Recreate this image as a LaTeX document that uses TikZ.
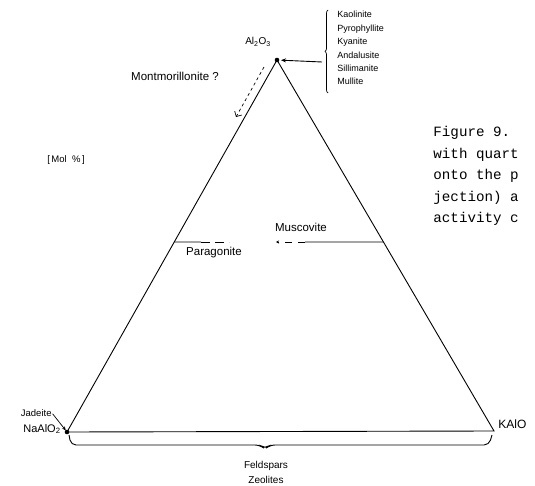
\documentclass[tikz,border=0pt]{standalone}
\usepackage{fontspec}
\setmainfont{Liberation Sans}
\newfontfamily\typew{Liberation Mono}
\usetikzlibrary{arrows.meta,decorations.pathreplacing,calc}
\begin{document}
\begin{tikzpicture}[x=1pt,y=-1pt,line width=0.9pt,
  lbl/.style={font=\fontsize{9}{11}\selectfont,inner sep=0pt},
  big/.style={font=\fontsize{11.5}{14}\selectfont,inner sep=0pt},
  capline/.style={font=\typew\fontsize{14.2}{18}\selectfont,anchor=base west,inner sep=0pt},
  arr/.style={-{Stealth[length=5pt,width=4pt]}}]
\clip (0,0) rectangle (535,486);
\fill[white] (0,0) rectangle (535,486);
% vertices
\coordinate (A) at (277,60);
\coordinate (B) at (67,432);
\coordinate (C) at (494,431);
\draw (A) -- (B) -- (C) -- cycle;
\fill (A) circle (2.3);
\fill (B) circle (2.3);
% apex
\node[lbl,font=\fontsize{10}{12}\selectfont] (al) at (258,42) {Al\textsubscript{2}O\textsubscript{3}};
\coordinate (aS) at (322,62);
\draw[arr,shorten >=4pt] (aS) -- (A);
\draw[line width=0.7pt,decorate,decoration={brace,amplitude=3pt}] (328,93) -- (328,10);
\node[lbl,anchor=north west,align=left,font=\fontsize{9}{13.4}\selectfont] (minerals) at (337,11)
  {Kaolinite\\Pyrophyllite\\Kyanite\\Andalusite\\Sillimanite\\Mullite};
% montmorillonite
\node[big] (mont) at (175,76) {Montmorillonite ?};
\coordinate (m1) at (264,67);
\coordinate (m2) at (236,117);
\draw[dashed,line width=0.7pt,-{Straight Barb[length=4pt]}] (m1) -- (m2);
% mol %
\node[lbl,font=\fontsize{9.5}{11}\selectfont] (mol) at (66,160) {[\,Mol~~\%\,]};
% micas tie line
\coordinate (pl) at ($(A)!0.4892!(B)$);
\coordinate (pr) at ($(A)!0.4906!(C)$);
\coordinate (pd1) at (201,242);
\coordinate (pd2) at (229,242);
\coordinate (md1) at (305,242);
\coordinate (md2) at (276,242);
\draw (pl) -- (pd1);
\draw[dash pattern=on 9pt off 5pt] (pd1) -- (pd2);
\draw (md1) -- (pr);
\draw[dash pattern=on 7pt off 6pt,-{Stealth[length=3pt,width=3pt]}] (md1) -- (md2);
\node[big] (musc) at (301,227) {Muscovite};
\node[big] (parag) at (214,253) {Paragonite};
% left vertex labels
\node[inner sep=0pt,anchor=east,font=\fontsize{9.5}{11}\selectfont] (jad) at (52,413) {Jadeite};
\node[inner sep=0pt,anchor=east,font=\fontsize{11}{13}\selectfont] (na) at (61,429) {NaAlO\textsubscript{2}};
\draw[line width=0.7pt,-{Stealth[length=4pt,width=3.5pt]},shorten >=2pt,shorten <=1pt] (jad.east) -- (B);
% right vertex label
\node[inner sep=0pt,anchor=west,font=\fontsize{12}{14}\selectfont] (k) at (498,424) {KAlO};
% bottom brace
\coordinate (b1) at (69,435);
\coordinate (b2) at (492,435);
\draw[rounded corners=5pt] (b1) -- (71,445) -- (260,445) -- (265,449) -- (270,445) -- (489,445) -- (b2);
\node[inner sep=0pt,align=center,font=\fontsize{10}{15}\selectfont] (feld) at (266,472) {Feldspars\\Zeolites};
% caption fragment
\node[capline] (c1) at (433,137) {Figure 9.};
\node[capline] (c2) at (433,158.5) {with quart};
\node[capline] (c3) at (433,180) {onto the p};
\node[capline] (c4) at (433,201.5) {jection) a};
\node[capline] (c5) at (433,223) {activity c};
\end{tikzpicture}
\end{document}
